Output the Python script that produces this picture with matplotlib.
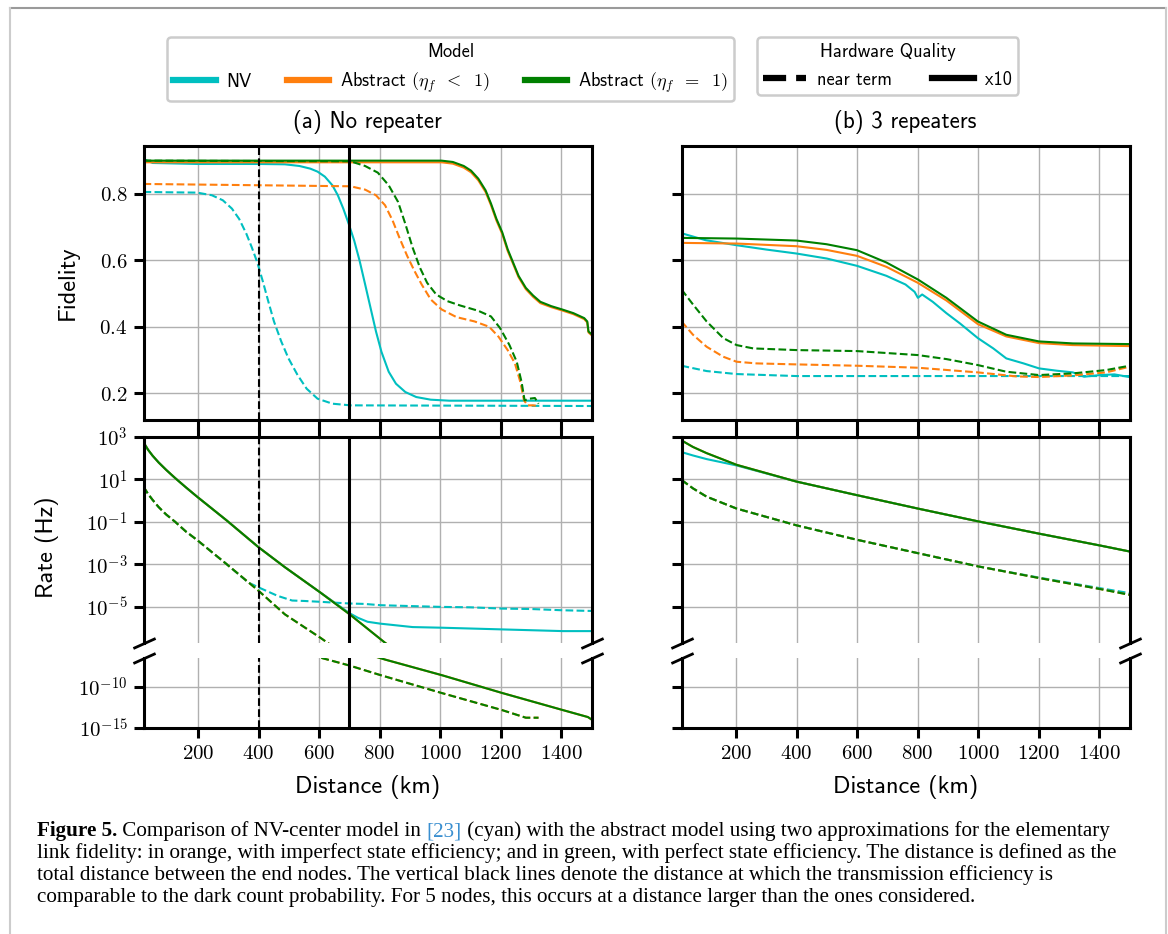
import numpy as np
import matplotlib
matplotlib.use("Agg")
import matplotlib.pyplot as plt
from matplotlib.lines import Line2D
from matplotlib.ticker import FixedLocator, FuncFormatter

plt.rcParams['font.family'] = ['cmss10', 'DejaVu Sans']
plt.rcParams['mathtext.fontset'] = 'cm'
plt.rcParams['axes.unicode_minus'] = False

# ---------------- data ----------------
# (a) No repeater - fidelity
a_fid_nv_x10_d = [20, 50, 200, 400, 487, 535, 571, 595, 619, 644, 662, 680, 698, 716, 734, 752, 770, 788, 806, 830, 854, 885, 921, 969, 1030, 1500]
a_fid_nv_x10 = [0.904, 0.892, 0.889, 0.889, 0.888, 0.883, 0.875, 0.866, 0.851, 0.825, 0.795, 0.755, 0.709, 0.659, 0.598, 0.528, 0.457, 0.386, 0.325, 0.265, 0.229, 0.204, 0.189, 0.181, 0.178, 0.178]
a_fid_nv_near_d = [20, 100, 197, 246, 282, 312, 336, 360, 378, 396, 414, 432, 451, 475, 499, 529, 559, 595, 644, 704, 1500]
a_fid_nv_near = [0.805, 0.804, 0.803, 0.795, 0.780, 0.755, 0.724, 0.679, 0.638, 0.593, 0.537, 0.477, 0.416, 0.356, 0.305, 0.255, 0.214, 0.184, 0.169, 0.164, 0.162]
a_fid_abs_x10_d = [20, 500, 1005, 1042, 1078, 1102, 1126, 1150, 1168, 1186, 1205, 1223, 1241, 1259, 1283, 1307, 1331, 1367, 1403, 1440, 1476, 1486, 1490, 1500]
a_fid_eq1_x10 = [0.899, 0.899, 0.899, 0.895, 0.883, 0.869, 0.845, 0.810, 0.770, 0.724, 0.684, 0.633, 0.593, 0.553, 0.517, 0.494, 0.475, 0.462, 0.452, 0.441, 0.426, 0.416, 0.386, 0.378]
a_fid_lt1_x10 = [0.894, 0.894, 0.894, 0.890, 0.878, 0.864, 0.840, 0.805, 0.765, 0.719, 0.679, 0.628, 0.589, 0.549, 0.513, 0.490, 0.471, 0.459, 0.449, 0.438, 0.423, 0.413, 0.383, 0.375]
a_fid_lt1_near_d = [20, 704, 752, 788, 818, 843, 867, 891, 915, 939, 969, 1005, 1054, 1114, 1162, 1193, 1223, 1247, 1265, 1277, 1289, 1307, 1325]
a_fid_lt1_near = [0.829, 0.822, 0.812, 0.795, 0.765, 0.719, 0.664, 0.613, 0.568, 0.527, 0.482, 0.452, 0.429, 0.416, 0.400, 0.370, 0.330, 0.290, 0.234, 0.179, 0.164, 0.164, 0.162]
a_fid_eq1_near_d = [20, 704, 752, 794, 830, 861, 885, 909, 933, 957, 987, 1024, 1066, 1126, 1168, 1198, 1229, 1253, 1269, 1279, 1295, 1313, 1325]
a_fid_eq1_near = [0.899, 0.897, 0.883, 0.863, 0.825, 0.775, 0.709, 0.638, 0.578, 0.532, 0.497, 0.477, 0.464, 0.448, 0.431, 0.396, 0.345, 0.295, 0.234, 0.179, 0.184, 0.186, 0.169]

# (b) 3 repeaters - fidelity
b_fid_abs_x10_d = [20, 202, 400, 499, 600, 697, 801, 895, 999, 1093, 1201, 1313, 1500]
b_fid_eq1_x10 = [0.667, 0.665, 0.659, 0.648, 0.630, 0.593, 0.542, 0.487, 0.416, 0.376, 0.356, 0.350, 0.348]
b_fid_lt1_x10 = [0.652, 0.650, 0.642, 0.631, 0.613, 0.580, 0.532, 0.479, 0.408, 0.371, 0.351, 0.345, 0.342]
b_fid_nv_x10_d = [20, 100, 202, 300, 400, 500, 600, 697, 760, 790, 801, 815, 850, 895, 940, 999, 1050, 1093, 1150, 1201, 1260, 1313, 1350, 1403, 1450, 1500]
b_fid_nv_x10 = [0.681, 0.660, 0.645, 0.632, 0.620, 0.605, 0.583, 0.553, 0.527, 0.505, 0.487, 0.497, 0.475, 0.441, 0.410, 0.366, 0.335, 0.305, 0.290, 0.275, 0.268, 0.263, 0.250, 0.255, 0.257, 0.249]
b_fid_eq1_near_d = [20, 58, 103, 158, 202, 257, 400, 600, 801, 895, 999, 1093, 1201, 1313, 1423, 1500]
b_fid_eq1_near = [0.512, 0.467, 0.416, 0.366, 0.345, 0.335, 0.330, 0.327, 0.315, 0.303, 0.285, 0.265, 0.255, 0.260, 0.270, 0.283]
b_fid_lt1_near_d = [20, 58, 103, 158, 202, 268, 400, 600, 801, 999, 1126, 1201, 1313, 1423, 1500]
b_fid_lt1_near = [0.416, 0.376, 0.340, 0.310, 0.295, 0.290, 0.287, 0.283, 0.277, 0.263, 0.251, 0.249, 0.254, 0.263, 0.280]
b_fid_nv_near_d = [20, 103, 202, 400, 1500]
b_fid_nv_near = [0.283, 0.267, 0.258, 0.252, 0.252]

# (a) No repeater - rate, log10(Hz)
a_rate_x10_d = [20, 35, 50, 70, 95, 125, 160, 197, 294, 400, 487, 604, 701, 818, 1005, 1205, 1406, 1488, 1500]
a_rate_abs_x10_log = [2.75, 2.40, 2.12, 1.80, 1.45, 1.06, 0.63, 0.19, -0.92, -2.19, -3.13, -4.32, -5.35, -6.69, -8.58, -10.75, -12.83, -13.67, -13.96]
a_rate_near_d = [20, 35, 50, 70, 95, 125, 160, 197, 294, 400, 487, 604, 701, 803, 1005, 1205, 1283, 1325]
a_rate_abs_near_log = [0.66, 0.32, 0.04, -0.30, -0.65, -1.00, -1.45, -1.85, -2.98, -4.24, -5.35, -6.45, -7.42, -8.58, -10.75, -12.83, -13.75, -13.75]
a_rate_nv_near_d = [20, 35, 50, 70, 95, 125, 160, 197, 294, 366, 400, 463, 511, 550, 604, 650, 701, 750, 803, 900, 1005, 1100, 1205, 1300, 1406, 1500]
a_rate_nv_near_log = [0.66, 0.32, 0.04, -0.30, -0.65, -1.00, -1.45, -1.85, -2.98, -3.85, -4.08, -4.48, -4.70, -4.72, -4.76, -4.80, -4.84, -4.86, -4.92, -4.96, -5.00, -5.02, -5.08, -5.10, -5.16, -5.19]
a_rate_nv_x10_d = [20, 35, 50, 70, 95, 125, 160, 197, 294, 400, 487, 604, 701, 728, 760, 803, 909, 1005, 1205, 1406, 1500]
a_rate_nv_x10_log = [2.75, 2.40, 2.12, 1.80, 1.45, 1.06, 0.63, 0.19, -0.92, -2.19, -3.13, -4.32, -5.30, -5.51, -5.70, -5.79, -5.95, -5.98, -6.06, -6.14, -6.14]

# (b) 3 repeaters - rate, log10(Hz)
b_rate_d = [20, 58, 103, 202, 400, 600, 801, 999, 1201, 1403, 1500]
b_rate_abs_x10_log = [2.84, 2.53, 2.24, 1.69, 0.90, 0.26, -0.37, -0.97, -1.55, -2.11, -2.39]
b_rate_nv_x10_log = [2.29, 2.13, 1.96, 1.66, 0.90, 0.26, -0.37, -0.97, -1.55, -2.11, -2.39]
b_rate_abs_near_log = [0.98, 0.58, 0.19, -0.37, -1.16, -1.84, -2.47, -3.09, -3.64, -4.16, -4.43]
b_rate_nv_near_log = [0.98, 0.58, 0.19, -0.37, -1.16, -1.84, -2.47, -3.09, -3.62, -4.12, -4.35]

x_ticks = [200, 400, 600, 800, 1000, 1200, 1400]
fid_ticks = [0.2, 0.4, 0.6, 0.8]
rate_ticks_upper = [3, 1, -1, -3, -5]
rate_ticks_lower = [-10, -15]
vlines_a = [400, 700]

panel_titles = ['(a) No repeater', '(b) 3 repeaters']
model_labels = ['NV', r'Abstract $(\eta_f\;\;<\;\;1)$', r'Abstract $(\eta_f\;\;=\;\;1)$']
hw_labels = ['near term', 'x10']

C_NV, C_LT1, C_EQ1 = '#00bfc0', '#ff7f0e', '#008000'

# ---------------- layout ----------------
W, H = 1168, 934
fig = plt.figure(figsize=(W / 100, H / 100), dpi=100)


def rect(x0, y0, x1, y1):
    return [x0 / W, 1 - y1 / H, (x1 - x0) / W, (y1 - y0) / H]


XL = [(143.5, 591.5), (681.5, 1129.5)]
Y_FID = (146, 420)
Y_RU = (437, 643)
Y_RL = (658, 728)

SPW = 2.2
TKL, TKW = 7.5, 2.2
LW = 1.5
TICK_FS = 15


def p10(v):
    return 10.0 ** np.asarray(v, dtype=float)


axes = {}
for i, (x0, x1) in enumerate(XL):
    axF = fig.add_axes(rect(x0, Y_FID[0], x1, Y_FID[1]))
    axU = fig.add_axes(rect(x0, Y_RU[0], x1, Y_RU[1]))
    axL = fig.add_axes(rect(x0, Y_RL[0], x1, Y_RL[1]))
    axes[i] = (axF, axU, axL)
    for ax in (axF, axU, axL):
        ax.set_xlim(20, 1500)
        ax.xaxis.set_major_locator(FixedLocator(x_ticks))
        ax.grid(True, color='#b0b0b0', lw=1.0, zorder=0)
        ax.set_axisbelow(True)
        for s in ax.spines.values():
            s.set_linewidth(SPW)
        ax.tick_params(direction='out', length=TKL, width=TKW, labelsize=TICK_FS, pad=4)
    axF.set_ylim(0.12, 0.943)
    axF.yaxis.set_major_locator(FixedLocator(fid_ticks))
    axF.yaxis.set_major_formatter(FuncFormatter(lambda v, p: r'$%.1f$' % v))
    axF.tick_params(axis='x', labelbottom=False)
    for ax in (axU, axL):
        ax.set_yscale('log')
        ax.yaxis.set_minor_locator(FixedLocator([]))
        ax.yaxis.set_major_formatter(FuncFormatter(lambda v, p: r'$10^{%d}$' % int(round(np.log10(v)))))
    axU.set_ylim(10 ** -6.7, 1e3)
    axU.yaxis.set_major_locator(FixedLocator([10.0 ** k for k in rate_ticks_upper]))
    axU.spines['bottom'].set_visible(False)
    axU.tick_params(axis='x', bottom=False, labelbottom=False, top=True)
    axL.set_ylim(1e-15, 10 ** -6.5)
    axL.yaxis.set_major_locator(FixedLocator([10.0 ** k for k in rate_ticks_lower]))
    axL.spines['top'].set_visible(False)
    axL.xaxis.set_major_formatter(FuncFormatter(lambda v, p: r'$%d$' % v))
    if i == 1:
        for ax in (axF, axU, axL):
            ax.tick_params(axis='y', labelleft=False)
    # break marks
    kw = dict(marker=[(-1, -0.45), (1, 0.45)], markersize=16, linestyle='none',
              color='k', mec='k', mew=2, clip_on=False, zorder=10)
    axU.plot([0, 1], [0, 0], transform=axU.transAxes, **kw)
    axL.plot([0, 1], [1, 1], transform=axL.transAxes, **kw)

# ---- panel (a) ----
axF, axU, axL = axes[0]
axF.plot(a_fid_nv_x10_d, a_fid_nv_x10, color=C_NV, lw=LW)
axF.plot(a_fid_nv_near_d, a_fid_nv_near, color=C_NV, lw=LW, ls='--')
axF.plot(a_fid_abs_x10_d, a_fid_lt1_x10, color=C_LT1, lw=LW)
axF.plot(a_fid_lt1_near_d, a_fid_lt1_near, color=C_LT1, lw=LW, ls='--')
axF.plot(a_fid_abs_x10_d, a_fid_eq1_x10, color=C_EQ1, lw=LW)
axF.plot(a_fid_eq1_near_d, a_fid_eq1_near, color=C_EQ1, lw=LW, ls='--')
for ax in (axU, axL):
    ax.plot(a_rate_nv_x10_d, p10(a_rate_nv_x10_log), color=C_NV, lw=LW)
    ax.plot(a_rate_nv_near_d, p10(a_rate_nv_near_log), color=C_NV, lw=LW, ls='--')
    ax.plot(a_rate_x10_d, p10(a_rate_abs_x10_log), color=C_LT1, lw=LW)
    ax.plot(a_rate_near_d, p10(a_rate_abs_near_log), color=C_LT1, lw=LW, ls='--')
    ax.plot(a_rate_x10_d, p10(a_rate_abs_x10_log), color=C_EQ1, lw=LW)
    ax.plot(a_rate_near_d, p10(a_rate_abs_near_log), color=C_EQ1, lw=LW, ls='--')
for ax in (axF, axU, axL):
    ax.axvline(vlines_a[0], color='k', lw=1.5, ls='--', zorder=5)
    ax.axvline(vlines_a[1], color='k', lw=2.2, zorder=5)

# ---- panel (b) ----
axF, axU, axL = axes[1]
axF.plot(b_fid_nv_x10_d, b_fid_nv_x10, color=C_NV, lw=LW)
axF.plot(b_fid_nv_near_d, b_fid_nv_near, color=C_NV, lw=LW, ls='--')
axF.plot(b_fid_abs_x10_d, b_fid_lt1_x10, color=C_LT1, lw=LW)
axF.plot(b_fid_lt1_near_d, b_fid_lt1_near, color=C_LT1, lw=LW, ls='--')
axF.plot(b_fid_abs_x10_d, b_fid_eq1_x10, color=C_EQ1, lw=LW)
axF.plot(b_fid_eq1_near_d, b_fid_eq1_near, color=C_EQ1, lw=LW, ls='--')
for ax in (axU, axL):
    ax.plot(b_rate_d, p10(b_rate_nv_x10_log), color=C_NV, lw=LW)
    ax.plot(b_rate_d, p10(b_rate_nv_near_log), color=C_NV, lw=LW, ls='--')
    ax.plot(b_rate_d, p10(b_rate_abs_x10_log), color=C_LT1, lw=LW)
    ax.plot(b_rate_d, p10(b_rate_abs_near_log), color=C_LT1, lw=LW, ls='--')
    ax.plot(b_rate_d, p10(b_rate_abs_x10_log), color=C_EQ1, lw=LW)
    ax.plot(b_rate_d, p10(b_rate_abs_near_log), color=C_EQ1, lw=LW, ls='--')

# ---- texts ----
def ftext(x, y, s, **kw):
    return fig.text(x / W, 1 - y / H, s, **kw)


for (x0, x1), t in zip(XL, panel_titles):
    ftext((x0 + x1) / 2, 122, t, ha='center', va='center', fontsize=16.5)
    ftext((x0 + x1) / 2, 787, 'Distance (km)', ha='center', va='center', fontsize=17.5)
ftext(68, 283, 'Fidelity', ha='center', va='center', rotation=90, fontsize=17.5)
ftext(47, 547, 'Rate (Hz)', ha='center', va='center', rotation=90, fontsize=17.5)

# ---- legends ----
LEG_FS = 13.2
mh = [Line2D([], [], color=c, lw=4.5) for c in (C_NV, C_LT1, C_EQ1)]
leg1 = fig.legend(mh, model_labels, title='Model', ncol=3, loc='upper left',
                  bbox_to_anchor=(167 / W, 1 - 37 / H), borderaxespad=0,
                  fontsize=LEG_FS, title_fontsize=LEG_FS, handlelength=2.3,
                  columnspacing=1.9, handletextpad=0.6, borderpad=0.35,
                  fancybox=True, edgecolor='#cccccc', framealpha=1)
leg1.get_frame().set_linewidth(1.8)
hh = [Line2D([], [], color='k', lw=4.5, ls='--'), Line2D([], [], color='k', lw=4.5)]
leg2 = fig.legend(hh, hw_labels, title='Hardware Quality', ncol=2, loc='upper left',
                  bbox_to_anchor=(757 / W, 1 - 37 / H), borderaxespad=0,
                  fontsize=LEG_FS, title_fontsize=LEG_FS, handlelength=2.3,
                  columnspacing=2.2, handletextpad=0.6, borderpad=0.35,
                  fancybox=True, edgecolor='#cccccc', framealpha=1)
leg2.get_frame().set_linewidth(1.8)

# ---- outer frame ----
fig.add_artist(Line2D([10 / W, 1166 / W], [1 - 8 / H, 1 - 8 / H], color='#9a9a9a', lw=1.5))
fig.add_artist(Line2D([10 / W, 10 / W], [0, 1 - 8 / H], color='#cccccc', lw=1.5))
fig.add_artist(Line2D([1166 / W, 1166 / W], [0, 1 - 8 / H], color='#cccccc', lw=1.5))

# ---- caption ----
renderer = fig.canvas.get_renderer()
CAP_FONT = 'Liberation Serif'
line2_text = ('link fidelity: in orange, with imperfect state efficiency; and in green, '
              'with perfect state efficiency. The distance is defined as the')
probe = fig.text(0, 0, line2_text, fontsize=10, family=CAP_FONT)
wprobe = probe.get_window_extent(renderer).width
probe.remove()
cap_size = 10 * 1077 / wprobe

cap_lines = [
    [('Figure 5.', dict(weight='bold')), (' Comparison of NV-center model in ', {}),
     ('[23]', dict(color='#3a8fd0')),
     (' (cyan) with the abstract model using two approximations for the elementary', {})],
    [(line2_text, {})],
    [('total distance between the end nodes. The vertical black lines denote the distance '
      'at which the transmission efficiency is', {})],
    [('comparable to the dark count probability. For 5 nodes, this occurs at a distance '
      'larger than the ones considered.', {})],
]
baselines = [836, 858, 880, 902]
for segs, yb in zip(cap_lines, baselines):
    x = 37.0
    for s, kw in segs:
        t = fig.text(x / W, 1 - yb / H, s, fontsize=cap_size, family=CAP_FONT,
                     va='baseline', ha='left', **kw)
        x = t.get_window_extent(renderer).x1

fig.savefig('out.png', dpi=100)
